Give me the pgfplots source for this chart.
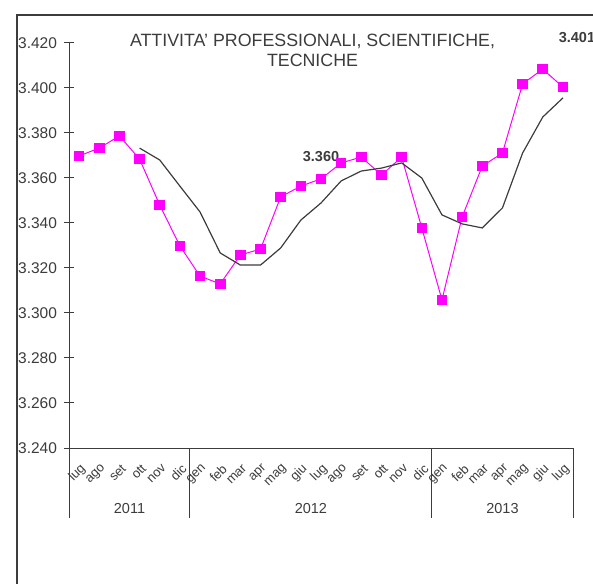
\documentclass[border=0pt]{standalone}
\usepackage{pgfplots}
\pgfplotsset{compat=1.18}
\usepackage{fontspec}
\setmainfont{Liberation Sans}
\definecolor{mag}{RGB}{255,0,255}
\definecolor{dk}{RGB}{60,60,60}
\begin{document}
\begin{tikzpicture}[x=1pt,y=1pt]
\clip (0,0) rectangle (593,583);
\draw[dk, line width=1.2pt] (17,-5) -- (17,568) -- (600,568);
\begin{axis}[
  at={(69pt,135pt)}, anchor=south west,
  scale only axis, width=504pt, height=405pt,
  xmin=-0.5, xmax=24.5, ymin=3.24, ymax=3.42,
  clip=false,
  axis x line*=bottom, axis y line*=left,
  axis line style={dk, line width=1pt},
  ytick={3.24,3.26,3.28,3.30,3.32,3.34,3.36,3.38,3.40,3.42},
  yticklabel style={font=\fontsize{15.5}{18}\selectfont, text=dk},
  /pgf/number format/.cd, fixed, fixed zerofill, precision=3, assume math mode=true,
  /pgfplots/.cd,
  ytick style={dk, line width=1pt},
  y tick label style={xshift=-4pt},
  tick align=center,
  major tick length=9pt,
  xtick={0,...,24},
  xticklabels={lug,ago,set,ott,nov,dic,gen,feb,mar,apr,mag,giu,lug,ago,set,ott,nov,dic,gen,feb,mar,apr,mag,giu,lug},
  xtick style={draw=none},
  x tick label style={xshift=4.5pt, yshift=-14pt, rotate=45, anchor=east, font=\fontsize{13}{14}\selectfont, text=dk, inner sep=0pt},
]
\addplot[mag, line width=1pt, mark=square*, mark size=4.8pt, mark options={solid, fill=mag, draw=mag}] coordinates {
(0,3.3698) (1,3.3733) (2,3.3787) (3,3.3684) (4,3.3480) (5,3.3298)
(6,3.3164) (7,3.3129) (8,3.3258) (9,3.3284) (10,3.3516) (11,3.3564)
(12,3.3596) (13,3.3667) (14,3.3693) (15,3.3613) (16,3.3693) (17,3.3378)
(18,3.3058) (19,3.3427) (20,3.3653) (21,3.3711) (22,3.4018) (23,3.4084) (24,3.4004)
};
\addplot[dk, line width=1.2pt] coordinates {
(3,3.3733) (4,3.3680) (5,3.3564)
(6,3.3449) (7,3.3267) (8,3.3213) (9,3.3213) (10,3.3289) (11,3.3413)
(12,3.3489) (13,3.3587) (14,3.3631) (15,3.3644) (16,3.3667) (17,3.3600)
(18,3.3436) (19,3.3396) (20,3.3378) (21,3.3467) (22,3.3711) (23,3.3871) (24,3.3956)
};
\draw[dk, line width=1pt] (axis cs:-0.5,3.24) -- ([yshift=-70pt]axis cs:-0.5,3.24);
\draw[dk, line width=1pt] (axis cs:5.5,3.24) -- ([yshift=-70pt]axis cs:5.5,3.24);
\draw[dk, line width=1pt] (axis cs:17.5,3.24) -- ([yshift=-70pt]axis cs:17.5,3.24);
\draw[dk, line width=1pt] (axis cs:24.5,3.24) -- ([yshift=-70pt]axis cs:24.5,3.24);
\node[font=\bfseries\fontsize{14.5}{16}\selectfont, text=dk] at (axis cs:12,3.3596) [yshift=22pt] {3.360};
\node[font=\bfseries\fontsize{14.5}{16}\selectfont, text=dk] at (axis cs:24,3.4004) [xshift=14pt, yshift=50pt] {3.401};
\node[font=\fontsize{14.5}{16}\selectfont, text=dk] at (axis cs:2.5,3.24) [yshift=-61pt] {2011};
\node[font=\fontsize{14.5}{16}\selectfont, text=dk] at (axis cs:11.5,3.24) [yshift=-61pt] {2012};
\node[font=\fontsize{14.5}{16}\selectfont, text=dk] at (axis cs:21,3.24) [yshift=-61pt] {2013};
\end{axis}
\node[font=\fontsize{17.8}{20}\selectfont, text=dk, align=center] at (312.5,533) {ATTIVITA' PROFESSIONALI, SCIENTIFICHE,\\TECNICHE};
\end{tikzpicture}
\end{document}
